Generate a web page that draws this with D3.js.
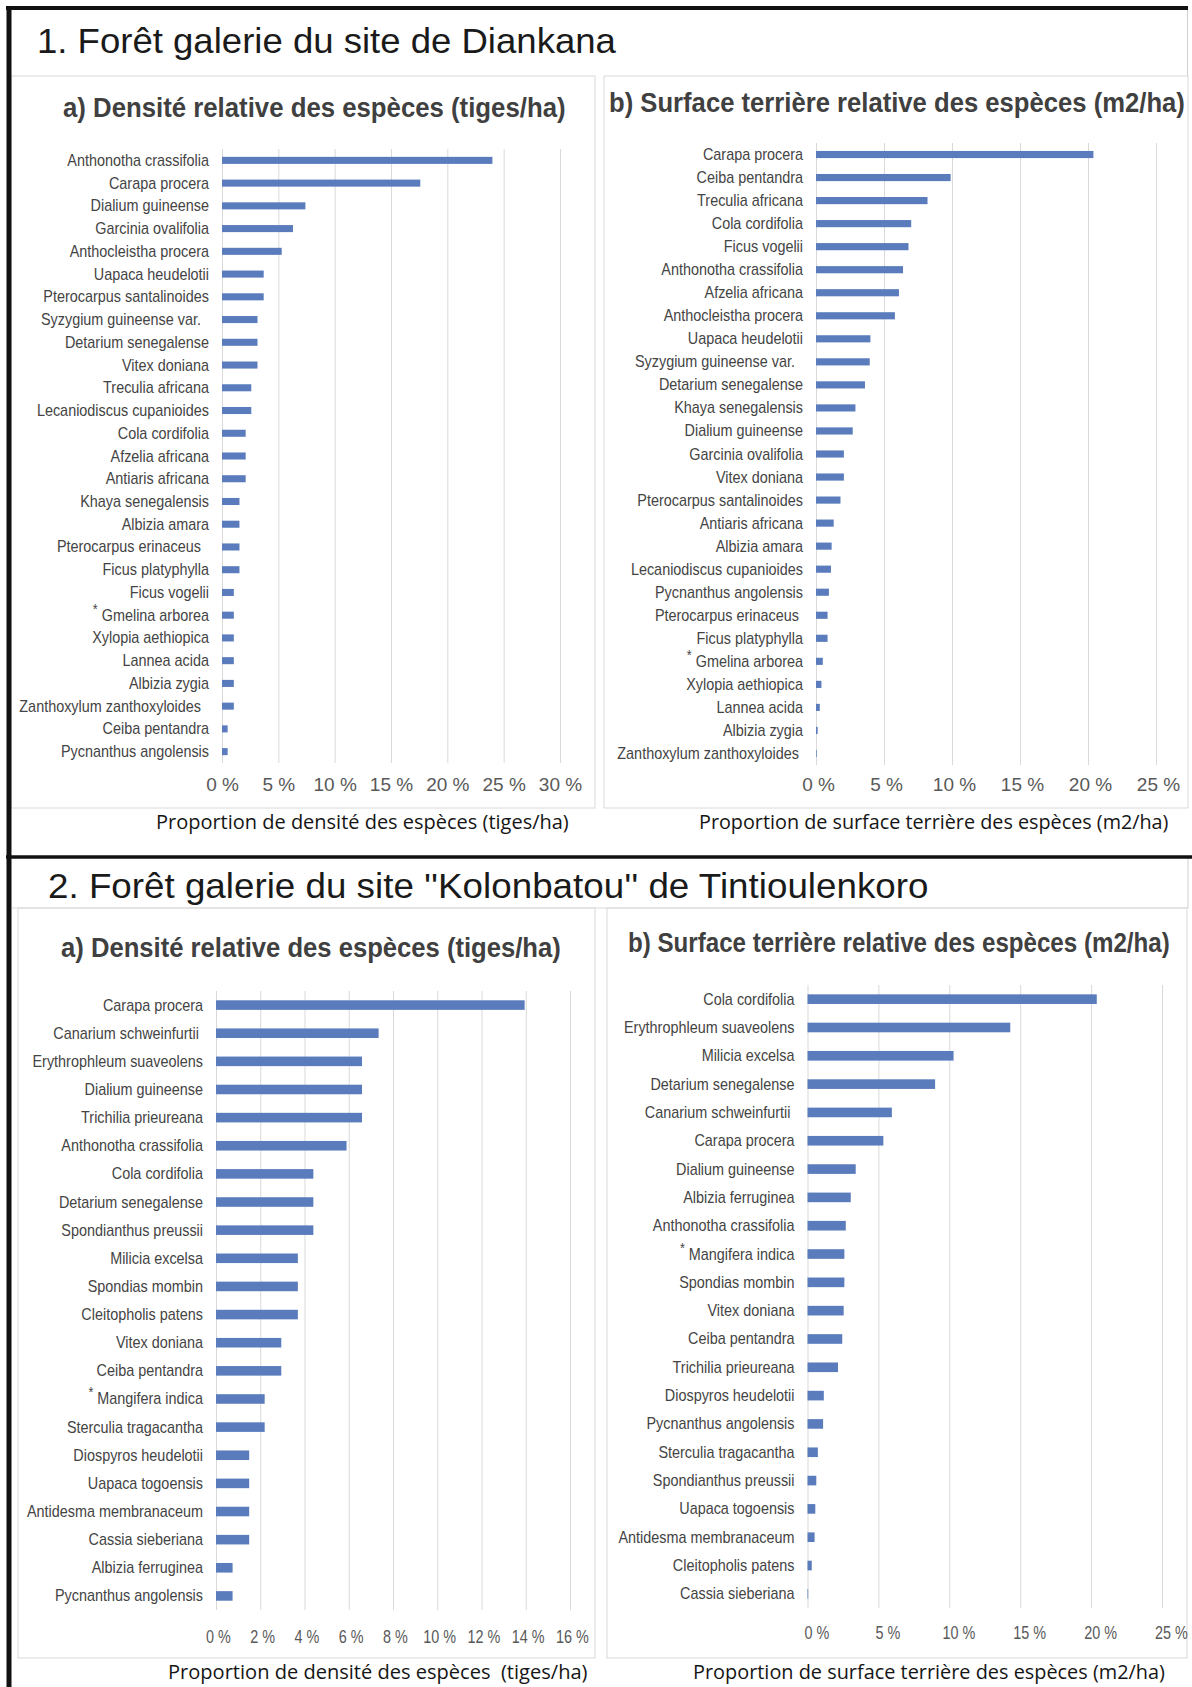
<!DOCTYPE html>
<html lang="fr">
<head>
<meta charset="utf-8">
<title>Forêts galeries - Diankana et Tintioulenkoro</title>
<script src="https://cdn.jsdelivr.net/npm/d3@7"></script>
<style>
  body { margin: 0; background: #fff; }
  .canvas svg { display: block; }
</style>
</head>
<body>
<div class="canvas"></div>
<script>

// 1. Diankana : densité relative (%)
const especesDensite1 = ['Anthonotha crassifolia', 'Carapa procera', 'Dialium guineense', 'Garcinia ovalifolia',
  'Anthocleistha procera', 'Uapaca heudelotii', 'Pterocarpus santalinoides', 'Syzygium guineense var.  ',
  'Detarium senegalense', 'Vitex doniana', 'Treculia africana', 'Lecaniodiscus cupanioides', 'Cola cordifolia',
  'Afzelia africana', 'Antiaris africana', 'Khaya senegalensis', 'Albizia amara', 'Pterocarpus erinaceus  ',
  'Ficus platyphylla', 'Ficus vogelii', '* Gmelina arborea', 'Xylopia aethiopica', 'Lannea acida', 'Albizia zygia',
  'Zanthoxylum zanthoxyloides  ', 'Ceiba pentandra', 'Pycnanthus angolensis'];
const densite1 = [24.0, 17.6, 7.4, 6.3, 5.3, 3.7, 3.7, 3.15, 3.15, 3.15, 2.6, 2.6, 2.1, 2.1, 2.1,
  1.55, 1.55, 1.55, 1.55, 1.05, 1.05, 1.05, 1.05, 1.05, 1.05, 0.5, 0.5];
const ticksDensite1 = [0, 5, 10, 15, 20, 25, 30];

// 1. Diankana : surface terrière relative (%)
const especesSurface1 = ['Carapa procera', 'Ceiba pentandra', 'Treculia africana', 'Cola cordifolia', 'Ficus vogelii',
  'Anthonotha crassifolia', 'Afzelia africana', 'Anthocleistha procera', 'Uapaca heudelotii', 'Syzygium guineense var.  ',
  'Detarium senegalense', 'Khaya senegalensis', 'Dialium guineense', 'Garcinia ovalifolia', 'Vitex doniana',
  'Pterocarpus santalinoides', 'Antiaris africana', 'Albizia amara', 'Lecaniodiscus cupanioides', 'Pycnanthus angolensis',
  'Pterocarpus erinaceus ', 'Ficus platyphylla', '* Gmelina arborea', 'Xylopia aethiopica', 'Lannea acida',
  'Albizia zygia', 'Zanthoxylum zanthoxyloides '];
const surface1 = [20.4, 9.9, 8.2, 7.0, 6.8, 6.4, 6.1, 5.8, 4.0, 3.95, 3.6, 2.9, 2.7, 2.05, 2.05,
  1.8, 1.3, 1.15, 1.1, 0.95, 0.85, 0.85, 0.5, 0.4, 0.28, 0.12, 0.05];
const ticksSurface1 = [0, 5, 10, 15, 20, 25];

// 2. Kolonbatou : densité relative (%)
const especesDensite2 = ['Carapa procera', 'Canarium schweinfurtii ', 'Erythrophleum suaveolens', 'Dialium guineense',
  'Trichilia prieureana', 'Anthonotha crassifolia', 'Cola cordifolia', 'Detarium senegalense', 'Spondianthus preussii',
  'Milicia excelsa', 'Spondias mombin', 'Cleitopholis patens', 'Vitex doniana', 'Ceiba pentandra', '* Mangifera indica',
  'Sterculia tragacantha', 'Diospyros heudelotii', 'Uapaca togoensis', 'Antidesma membranaceum', 'Cassia sieberiana',
  'Albizia ferruginea', 'Pycnanthus angolensis'];
const densite2 = [13.95, 7.35, 6.6, 6.6, 6.6, 5.9, 4.4, 4.4, 4.4, 3.7, 3.7, 3.7, 2.95, 2.95, 2.2, 2.2,
  1.5, 1.5, 1.5, 1.5, 0.75, 0.75];
const ticksDensite2 = [0, 2, 4, 6, 8, 10, 12, 14, 16];

// 2. Kolonbatou : surface terrière relative (%)
const especesSurface2 = ['Cola cordifolia', 'Erythrophleum suaveolens', 'Milicia excelsa', 'Detarium senegalense',
  'Canarium schweinfurtii ', 'Carapa procera', 'Dialium guineense', 'Albizia ferruginea', 'Anthonotha crassifolia',
  '* Mangifera indica', 'Spondias mombin', 'Vitex doniana', 'Ceiba pentandra', 'Trichilia prieureana',
  'Diospyros heudelotii', 'Pycnanthus angolensis', 'Sterculia tragacantha', 'Spondianthus preussii', 'Uapaca togoensis',
  'Antidesma membranaceum', 'Cleitopholis patens', 'Cassia sieberiana'];
const surface2 = [20.4, 14.3, 10.3, 9.0, 5.95, 5.35, 3.4, 3.05, 2.7, 2.6, 2.6, 2.55, 2.45, 2.15,
  1.15, 1.1, 0.73, 0.62, 0.55, 0.5, 0.3, 0.05];
const ticksSurface2 = [0, 5, 10, 15, 20, 25];


const dims = { width: 1192, height: 1687 };
const bleu = '#5a7cbc';

const svg = d3.select('.canvas')
  .append('svg')
  .attr('width', dims.width)
  .attr('height', dims.height);

// cadres des panneaux (gris clair)
const cadres = [
  [11, 76, 595, 808], [604, 76, 1188, 808],
  [18, 908, 595, 1658], [607, 908, 1187, 1658]
];
svg.selectAll('.cadre').data(cadres).enter()
  .append('rect')
    .attr('class', 'cadre')
    .attr('x', d => d[0]).attr('y', d => d[1])
    .attr('width', d => d[2] - d[0]).attr('height', d => d[3] - d[1])
    .attr('fill', 'none')
    .attr('stroke', '#d9d9d9');

svg.append('line').attr('x1', 1187.5).attr('x2', 1187.5).attr('y1', 8).attr('y2', 76).attr('stroke', '#d0d0d0');
svg.append('line').attr('x1', 12).attr('x2', 1188).attr('y1', 908).attr('y2', 908).attr('stroke', '#d9d9d9');
svg.append('line').attr('x1', 1188).attr('x2', 1188).attr('y1', 857).attr('y2', 908).attr('stroke', '#d0d0d0');

// traits noirs
svg.append('line').attr('x1', 6).attr('x2', 1188).attr('y1', 8).attr('y2', 8).attr('stroke', '#111').attr('stroke-width', 4);
svg.append('line').attr('x1', 9).attr('x2', 9).attr('y1', 6).attr('y2', dims.height).attr('stroke', '#111').attr('stroke-width', 5);
svg.append('line').attr('x1', 6).attr('x2', dims.width).attr('y1', 857).attr('y2', 857).attr('stroke', '#111').attr('stroke-width', 3.5);

// texte étiré/comprimé à une largeur donnée (scale horizontal)
const texteLargeur = (parent, txt, x, y, w, style) => {
  const t = parent.append('text')
    .attr('xml:space', 'preserve')
    .style('white-space', 'pre')
    .attr('font-family', style.famille)
    .attr('font-size', style.taille)
    .attr('font-weight', style.graisse || 'normal')
    .attr('fill', style.couleur)
    .text(txt);
  const nat = t.node().getComputedTextLength();
  t.attr('transform', `translate(${x}, ${y}) scale(${w / nat}, 1)`);
  return t;
};

const styleTitre = { famille: 'Liberation Sans, Arial, sans-serif', taille: 36, couleur: '#1a1a1a' };
const styleSousTitre = { famille: 'Liberation Sans, Arial, sans-serif', taille: 27, graisse: 'bold', couleur: '#404040' };
const styleAxe = { famille: 'Open Sans, Noto Sans, sans-serif', taille: 20, couleur: '#151515' };

texteLargeur(svg, '1. Forêt galerie du site de Diankana', 37, 53, 579, styleTitre);
texteLargeur(svg, "2. Forêt galerie du site ''Kolonbatou'' de Tintioulenkoro", 48, 898, 881, styleTitre);


const panneau = (cfg) => {

  const g = svg.append('g');
  const lignes = cfg.especes.map((e, i) => ({ espece: e, valeur: cfg.valeurs[i] }));

  const x = d3.scaleLinear()
    .domain([0, d3.max(cfg.ticks)])
    .range([cfg.x0, cfg.x1]);

  const y = d3.scaleBand()
    .domain(cfg.especes)
    .range([cfg.y0, cfg.y1])
    .paddingInner(cfg.pad)
    .paddingOuter(cfg.pad / 2);

  texteLargeur(g, cfg.sousTitre, cfg.sx, cfg.sy, cfg.sw, styleSousTitre);

  // grille + graduations
  g.append('g')
    .attr('transform', `translate(0, ${cfg.y1})`)
    .call(d3.axisBottom(x)
      .tickValues(cfg.ticks)
      .tickFormat(d => d + ' %')
      .tickSize(-(cfg.y1 - cfg.y0))
      .tickPadding(cfg.tickPad))
    .call(a => a.select('.domain').remove())
    .call(a => a.selectAll('line').attr('stroke', '#d9d9d9'))
    .call(a => a.selectAll('text')
      .attr('fill', '#595959')
      .attr('transform', `translate(${cfg.tickDx}, 0) scale(${cfg.tickSx}, 1)`))
    .attr('font-family', 'Liberation Sans, Arial, sans-serif')
    .attr('font-size', cfg.tickFont);

  g.selectAll('.barre').data(lignes).enter()
    .append('rect')
      .attr('class', 'barre')
      .attr('x', x(0))
      .attr('y', d => y(d.espece))
      .attr('width', d => x(d.valeur) - x(0))
      .attr('height', y.bandwidth())
      .attr('fill', bleu);

  g.selectAll('.espece').data(lignes).enter()
    .append('text')
      .attr('class', 'espece')
      .attr('transform', d => `translate(${cfg.x0 - 13}, ${y(d.espece) + y.bandwidth() / 2}) scale(0.9, 1)`)
      .attr('y', 5.5)
      .attr('text-anchor', 'end')
      .attr('xml:space', 'preserve')
      .style('white-space', 'pre')
      .attr('font-family', 'Liberation Sans, Arial, sans-serif')
      .attr('font-size', 16)
      .attr('fill', '#444')
      .each(function(d) {
        const t = d3.select(this);
        if (d.espece.startsWith('*')) {
          t.append('tspan').attr('dy', -7).attr('font-size', 14).text('*');
          t.append('tspan').attr('dy', 7).text(d.espece.slice(1));
        } else {
          t.text(d.espece);
        }
      });

  // titre de l'axe
  texteLargeur(svg, cfg.titreAxe, cfg.ax, cfg.ay, cfg.aw, styleAxe);
};


panneau({
  especes: especesDensite1, valeurs: densite1, ticks: ticksDensite1,
  x0: 222, x1: 560, y0: 149, y1: 763, pad: 0.69,
  tickPad: 15, tickFont: 19, tickSx: 1, tickDx: 0,
  sousTitre: 'a) Densité relative des espèces (tiges/ha)', sx: 63, sy: 117, sw: 503,
  titreAxe: 'Proportion de densité des espèces (tiges/ha)', ax: 156, ay: 829, aw: 413
});

panneau({
  especes: especesSurface1, valeurs: surface1, ticks: ticksSurface1,
  x0: 816, x1: 1156, y0: 143, y1: 765, pad: 0.69,
  tickPad: 13, tickFont: 19, tickSx: 1, tickDx: 2,
  sousTitre: 'b) Surface terrière relative des espèces (m2/ha)', sx: 609, sy: 112, sw: 576,
  titreAxe: 'Proportion de surface terrière des espèces (m2/ha)', ax: 699, ay: 829, aw: 470
});

panneau({
  especes: especesDensite2, valeurs: densite2, ticks: ticksDensite2,
  x0: 216, x1: 570, y0: 991, y1: 1610, pad: 0.66,
  tickPad: 20, tickFont: 18, tickSx: 0.8, tickDx: 2,
  sousTitre: 'a) Densité relative des espèces (tiges/ha)', sx: 61, sy: 957, sw: 500,
  titreAxe: 'Proportion de densité des espèces  (tiges/ha)', ax: 168, ay: 1679, aw: 420
});

panneau({
  especes: especesSurface2, valeurs: surface2, ticks: ticksSurface2,
  x0: 807.5, x1: 1162, y0: 985, y1: 1608, pad: 0.66,
  tickPad: 18, tickFont: 18, tickSx: 0.8, tickDx: 9,
  sousTitre: 'b) Surface terrière relative des espèces (m2/ha)', sx: 628, sy: 952, sw: 542,
  titreAxe: 'Proportion de surface terrière des espèces (m2/ha)', ax: 693, ay: 1679, aw: 472
});

</script>
</body>
</html>
